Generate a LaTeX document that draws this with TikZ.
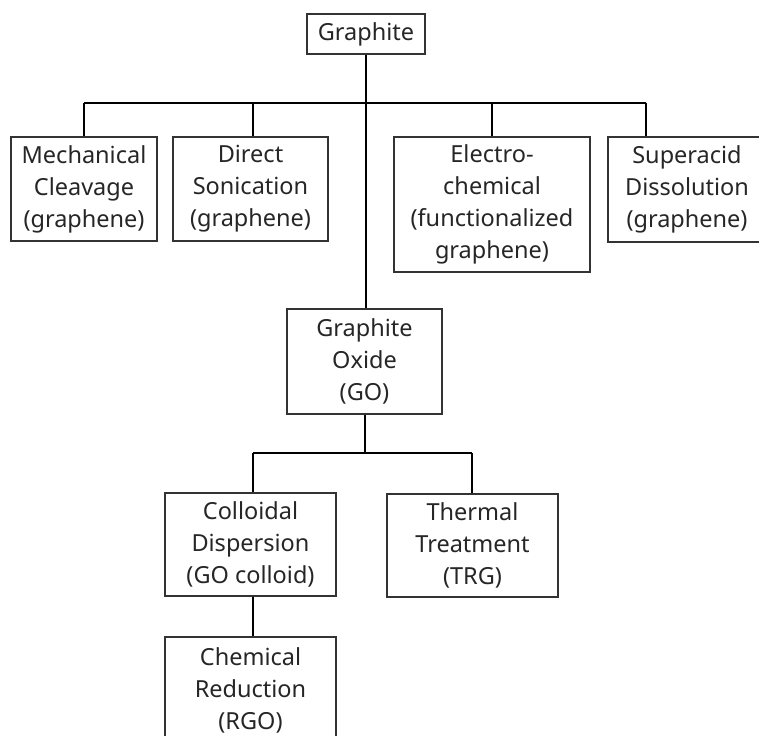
\documentclass[tikz,border=0pt]{standalone}
\usepackage{fontspec}
\setmainfont{Noto Sans}
\begin{document}
\begin{tikzpicture}[x=1pt,y=-1pt,
  box/.style={draw=black!80, line width=1.3pt, inner sep=0pt, align=center,
    text=black!85, font=\fontsize{23.5}{32}\selectfont},
  link/.style={draw=black, line width=1.8pt}]
\clip (0,0) rectangle (759,735);
\fill[white] (0,0) rectangle (759,735);
% nodes
\node[box, minimum width=118pt, minimum height=40pt] (graphite) at (366,34) {Graphite};
\node[box, minimum width=146pt, minimum height=104pt] (mech) at (84,189) {Mechanical\\Cleavage\\(graphene)};
\node[box, minimum width=155pt, minimum height=104pt] (direct) at (250.5,189) {Direct\\Sonication\\(graphene)};
\node[box, minimum width=196pt, minimum height=135pt] (electro) at (492,204.5) {Electro-\\chemical\\(functionalized\\graphene)};
\node[box, minimum width=158pt, minimum height=105pt] (super) at (687,189.5) {Superacid\\Dissolution\\(graphene)};
\node[box, minimum width=155pt, minimum height=105pt] (go) at (364.5,361.5) {Graphite\\Oxide\\(GO)};
\node[box, minimum width=171pt, minimum height=103pt] (colloid) at (250.5,544.5) {Colloidal\\Dispersion\\(GO colloid)};
\node[box, minimum width=171pt, minimum height=103pt] (thermal) at (472.5,545.5) {Thermal\\Treatment\\(TRG)};
\node[box, minimum width=171pt, minimum height=106pt] (chem) at (250.5,690) {Chemical\\Reduction\\(RGO)};
% bus coordinates
\coordinate (busA) at (366.5,103);
\coordinate (busB) at (365,453);
% connectors
\draw[link] (graphite.south) -- (graphite.south |- go.north);
\draw[link] (84,103) -- (646,103);
\draw[link] (84,103) -- (mech.north -| 84,0);
\draw[link] (253,103) -- (direct.north -| 253,0);
\draw[link] (electro.north |- busA) -- (electro.north);
\draw[link] (646,103) -- (super.north -| 646,0);
\draw[link] (go.south -| 365,0) -- (busB);
\draw[link] (253,453) -- (472,453);
\draw[link] (253,453) -- (colloid.north -| 253,0);
\draw[link] (472,453) -- (thermal.north -| 472,0);
\draw[link] (colloid.south -| 253,0) -- (chem.north -| 253,0);
\end{tikzpicture}
\end{document}
